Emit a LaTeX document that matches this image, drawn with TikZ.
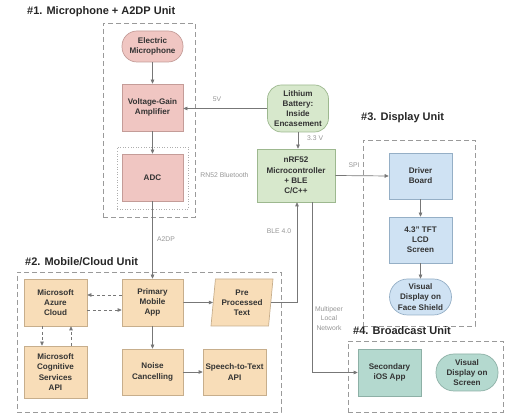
\documentclass[tikz,border=0pt]{standalone}
\usepackage{fontspec}
\setmainfont{Liberation Sans}
\usetikzlibrary{arrows.meta,shapes.geometric,calc}
\definecolor{pinkF}{HTML}{F0C6C2}\definecolor{pinkD}{HTML}{C49C98}
\definecolor{greenF}{HTML}{D7E8CC}\definecolor{greenD}{HTML}{9DB88F}
\definecolor{tanF}{HTML}{F8DDB8}\definecolor{tanD}{HTML}{C7AE8C}
\definecolor{blueF}{HTML}{CFE2F3}\definecolor{blueD}{HTML}{95AFC6}
\definecolor{tealF}{HTML}{B4D9CF}\definecolor{tealD}{HTML}{8DB0A6}
\definecolor{lineC}{HTML}{777777}\definecolor{boxC}{HTML}{9A9A9A}
\definecolor{txtC}{HTML}{333333}\definecolor{lblC}{HTML}{959595}
\tikzset{
  blk/.style={draw, line width=0.7pt, align=center, inner sep=1pt, text=txtC,
    font=\fontsize{8.1}{10.2}\selectfont\bfseries},
  pinkbox/.style={blk, fill=pinkF, draw=pinkD},
  greenbox/.style={blk, fill=greenF, draw=greenD},
  tanbox/.style={blk, fill=tanF, draw=tanD},
  bluebox/.style={blk, fill=blueF, draw=blueD},
  tealbox/.style={blk, fill=tealF, draw=tealD},
  unitbox/.style={draw=boxC, line width=0.8pt, dash pattern=on 5pt off 3pt, inner sep=0pt},
  ttl/.style={anchor=west, text=black!85, inner sep=0pt, font=\fontsize{11}{13}\selectfont\bfseries},
  lbl/.style={text=lblC, font=\fontsize{6.8}{9.7}\selectfont, align=center, inner sep=0pt},
  conn/.style={draw=lineC, line width=0.7pt, -{Triangle[length=4pt,width=3.6pt]}},
  dconn/.style={conn, dash pattern=on 3pt off 2.5pt}
}
\begin{document}
\begin{tikzpicture}[x=1pt,y=-1pt]
\useasboundingbox (0,0) rectangle (512,419);
% containers
\node[unitbox, minimum width=92pt, minimum height=194pt] (u1) at (149,120) {};
\node[draw=boxC!80, line width=0.6pt, dotted, minimum width=71pt, minimum height=62pt, inner sep=0pt] (rn) at (152.5,178) {};
\node[unitbox, minimum width=112pt, minimum height=186pt] (u3) at (419,233) {};
\node[unitbox, minimum width=264pt, minimum height=140pt] (u2) at (149,342) {};
\node[unitbox, minimum width=155pt, minimum height=71pt] (u4) at (425.5,376.5) {};
% titles
\node[ttl] (t1) at (27,12) {\#1. Microphone + A2DP Unit};
\node[ttl] (t2) at (25,262) {\#2. Mobile/Cloud Unit};
\node[ttl] (t3) at (361,118) {\#3. Display Unit};
\node[ttl] (t4) at (353,331) {\#4. Broadcast Unit};
% unit 1
\node[pinkbox, rounded corners=15pt, minimum width=61pt, minimum height=31pt] (mic) at (152.5,46.5) {Electric\\Microphone};
\node[pinkbox, minimum width=61pt, minimum height=47pt] (amp) at (152.5,107.5) {Voltage-Gain\\Amplifier};
\node[pinkbox, minimum width=61pt, minimum height=47pt] (adc) at (152.5,177.5) {ADC};
\node[lbl] (rnl) at (224.5,175) {RN52 Bluetooth};
% battery / mcu
\node[greenbox, rounded corners=14pt, minimum width=61pt, minimum height=47pt] (bat) at (298,108.5) {Lithium\\Battery:\\Inside\\Encasement};
\node[greenbox, minimum width=78pt, minimum height=53pt] (nrf) at (296,175.5) {nRF52\\Microcontroller\\+ BLE\\C/C++};
% unit 3
\node[bluebox, minimum width=63pt, minimum height=46pt] (drv) at (420.5,176) {Driver\\Board};
\node[bluebox, minimum width=63pt, minimum height=46pt] (lcd) at (420.5,240) {4.3" TFT\\LCD\\Screen};
\node[bluebox, rounded corners=18pt, minimum width=62pt, minimum height=36pt] (vis) at (420.5,297) {Visual\\Display on\\Face Shield};
% unit 2
\node[tanbox, minimum width=63pt, minimum height=47pt] (az) at (55.5,302.5) {Microsoft\\Azure\\Cloud};
\node[tanbox, minimum width=61pt, minimum height=47pt] (prim) at (152.5,302.5) {Primary\\Mobile\\App};
\node[tanbox, trapezium, trapezium left angle=81, trapezium right angle=99, trapezium stretches body, minimum width=62pt, minimum height=47pt] (pre) at (242,302.5) {Pre\\Processed\\Text};
\node[tanbox, minimum width=63pt, minimum height=52pt] (cog) at (55.5,372) {Microsoft\\Cognitive\\Services\\API};
\node[tanbox, minimum width=61pt, minimum height=46pt] (noise) at (152.5,372) {Noise\\Cancelling};
\node[tanbox, minimum width=63pt, minimum height=46pt] (stt) at (234.5,372) {Speech-to-Text\\API};
% unit 4
\node[tealbox, minimum width=63pt, minimum height=47pt] (sec) at (389.5,372.5) {Secondary\\iOS App};
\node[tealbox, rounded corners=18pt, minimum width=62pt, minimum height=37pt] (vscr) at (467,372.5) {Visual\\Display on\\Screen};
% connectors
\draw[conn] (mic) -- (amp);
\draw[conn] (amp) -- (adc);
\draw[conn] (bat.west) -- (bat.west -| amp.east);
\node[lbl] (v5) at (217,99) {5V};
\draw[conn] (bat.south) -- (bat.south |- nrf.north);
\node[lbl, anchor=west] (v33) at (307,138) {3.3 V};
\draw[conn] (nrf.east) -- (drv.west);
\node[lbl] (spi) at (354,165) {SPI};
\draw[conn] (drv) -- (lcd);
\draw[conn] (lcd) -- (vis);
\draw[conn] (adc) -- (prim);
\node[lbl] (a2dp) at (166,239) {A2DP};
\draw[conn] (prim.east) -- (pre.west);
\draw[conn] (pre.east) -| ([xshift=1pt]nrf.south);
\node[lbl] (ble) at (279,231) {BLE 4.0};
\draw[conn] ([xshift=16pt]nrf.south) |- (sec.west);
\node[lbl] (mp) at (329,318.5) {Multipeer\\Local\\Network};
\draw[dconn] ([yshift=7.5pt]prim.west) -- ([yshift=7.5pt]az.east);
\draw[dconn] ([yshift=-7.5pt]az.east) -- ([yshift=-7.5pt]prim.west);
\draw[dconn] ([xshift=-13.5pt]az.south) -- ([xshift=-13.5pt]cog.north);
\draw[dconn] ([xshift=15.5pt]cog.north) -- ([xshift=15.5pt]az.south);
\draw[conn] (prim) -- (noise);
\draw[conn] (noise) -- (stt);
\end{tikzpicture}
\end{document}
